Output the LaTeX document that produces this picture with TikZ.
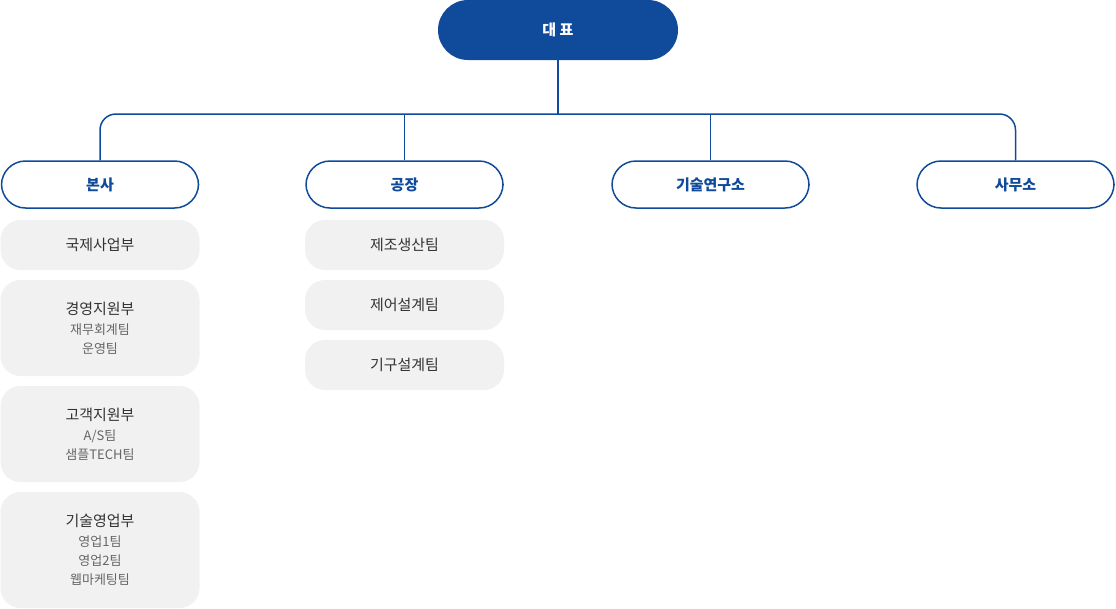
\documentclass[tikz,border=0pt]{standalone}
\usepackage{fontspec}
\setmainfont{Noto Sans CJK KR}
\definecolor{navy}{HTML}{0F4A9B}
\definecolor{gbox}{HTML}{F1F1F1}
\definecolor{txt}{HTML}{333333}
\definecolor{sub}{HTML}{666666}
\begin{document}
\begin{tikzpicture}[x=1pt,y=-1pt,
 top/.style={fill=navy,rounded corners=30pt,minimum width=240pt,minimum height=60pt,text=white,font=\fontsize{15}{18}\selectfont\bfseries},
 lvl/.style={draw=navy,line width=1.5pt,fill=white,rounded corners=24pt,minimum width=197pt,minimum height=47pt,text=navy,font=\fontsize{15}{18}\selectfont\bfseries},
 dept/.style={fill=gbox,rounded corners=20pt,minimum width=199pt,text=txt,align=center,font=\fontsize{15}{19}\selectfont,inner sep=0pt},
 link/.style={draw=navy,line width=1.5pt,rounded corners=16pt}]
\useasboundingbox (0,0) rectangle (1116,608);
\node[top] (ceo) at (558,30) {대 표};
\node[lvl] (hq) at (100,184.5) {본사};
\node[lvl] (fac) at (404.5,184.5) {공장};
\node[lvl] (lab) at (710.5,184.5) {기술연구소};
\node[lvl] (off) at (1015.5,184.5) {사무소};
\coordinate (j) at (558,114);
\draw[link] (ceo.south) -- (j);
\draw[link] (hq.north) |- (j);
\draw[link] (off.north) |- (j);
\draw[link,rounded corners=0pt] (fac.north) -- (fac.north|-j);
\draw[link,rounded corners=0pt] (lab.north) -- (lab.north|-j);
\newcommand{\subt}[1]{{\fontsize{13}{19}\selectfont\color{sub}#1}}
\node[dept,minimum height=50pt] (d1) at (100,245) {국제사업부};
\node[dept,minimum height=96pt] (d2) at (100,328) {경영지원부\\[1pt]\subt{재무회계팀}\\\subt{운영팀}};
\node[dept,minimum height=96pt] (d3) at (100,434) {고객지원부\\[1pt]\subt{A/S팀}\\\subt{샘플TECH팀}};
\node[dept,minimum height=116pt] (d4) at (100,550) {기술영업부\\[1pt]\subt{영업1팀}\\\subt{영업2팀}\\\subt{웹마케팅팀}};
\node[dept,minimum height=50pt] (f1) at (404.5,245) {제조생산팀};
\node[dept,minimum height=50pt] (f2) at (404.5,305) {제어설계팀};
\node[dept,minimum height=50pt] (f3) at (404.5,365) {기구설계팀};
\end{tikzpicture}
\end{document}
